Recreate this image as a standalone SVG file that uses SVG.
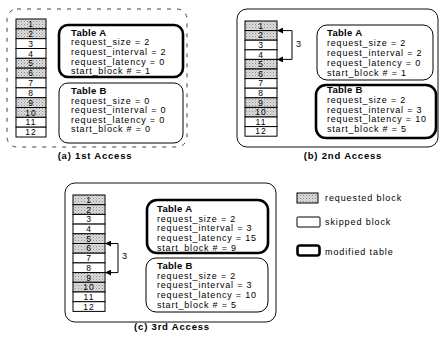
<svg xmlns="http://www.w3.org/2000/svg" width="441" height="341" viewBox="0 0 441 341">
  <defs>
    <pattern id="dots" width="3" height="3" patternUnits="userSpaceOnUse">
      <rect width="3" height="3" fill="#dcdcdc"/>
      <rect width="1" height="1" fill="#8a8a8a"/>
      <rect x="1.5" y="1.5" width="1" height="1" fill="#a8a8a8"/>
    </pattern>
    <marker id="head" viewBox="0 0 6 6" refX="6" refY="3" markerWidth="6" markerHeight="6" markerUnits="userSpaceOnUse" orient="auto-start-reverse">
      <path d="M0,0 L6,3 L0,6 Z" fill="#000"/>
    </marker>
    <style>
      .panel { fill: #fff; stroke: #111; stroke-width: 1; }
      .faint { stroke: #444; stroke-dasharray: 4 6; }
      .blk { fill: #fff; stroke: #000; stroke-width: 1; }
      .req { fill: url(#dots); stroke: #000; stroke-width: 1; }
      .tbl { fill: #fff; stroke: #000; stroke-width: 1; }
      .mod { fill: #fff; stroke: #000; stroke-width: 2.6; }
      .num { font-family: "Liberation Sans", Arial, sans-serif; font-size: 8.5px; letter-spacing: 1px; text-anchor: middle; fill: #000; }
      .txt { font-family: "Liberation Sans", Arial, sans-serif; font-size: 9px; letter-spacing: 0.8px; fill: #000; }
      .ttl { font-family: "Liberation Sans", Arial, sans-serif; font-size: 9.5px; font-weight: bold; letter-spacing: 0.3px; fill: #000; }
      .cap { font-family: "Liberation Sans", Arial, sans-serif; font-size: 9.5px; font-weight: bold; letter-spacing: 0.8px; text-anchor: middle; fill: #000; }
      .leg { font-family: "Liberation Sans", Arial, sans-serif; font-size: 9px; letter-spacing: 0.9px; fill: #000; }
      .link { fill: none; stroke: #000; stroke-width: 1; }
    </style>
  </defs>

  <!-- (a) first access -->
  <g id="panel-a">
    <rect class="panel faint" x="7" y="9" width="180" height="138" rx="10"/>
    <text class="cap" x="95" y="158.5">(a) 1st Access</text>
  </g>
  <g id="blocks-a">
    <rect class="req" x="16" y="19" width="30" height="9.83"/>
    <rect class="req" x="16" y="28.83" width="30" height="9.83"/>
    <rect class="blk" x="16" y="38.67" width="30" height="9.83"/>
    <rect class="blk" x="16" y="48.5" width="30" height="9.83"/>
    <rect class="req" x="16" y="58.33" width="30" height="9.83"/>
    <rect class="req" x="16" y="68.17" width="30" height="9.83"/>
    <rect class="blk" x="16" y="78" width="30" height="9.83"/>
    <rect class="blk" x="16" y="87.83" width="30" height="9.83"/>
    <rect class="req" x="16" y="97.67" width="30" height="9.83"/>
    <rect class="req" x="16" y="107.5" width="30" height="9.83"/>
    <rect class="blk" x="16" y="117.33" width="30" height="9.83"/>
    <rect class="blk" x="16" y="127.17" width="30" height="9.83"/>
    <text class="num" x="31" y="27">1</text>
    <text class="num" x="31" y="36.8">2</text>
    <text class="num" x="31" y="46.6">3</text>
    <text class="num" x="31" y="56.5">4</text>
    <text class="num" x="31" y="66.3">5</text>
    <text class="num" x="31" y="76.1">6</text>
    <text class="num" x="31" y="86">7</text>
    <text class="num" x="31" y="95.8">8</text>
    <text class="num" x="31" y="105.6">9</text>
    <text class="num" x="31" y="115.5">10</text>
    <text class="num" x="31" y="125.3">11</text>
    <text class="num" x="31" y="135.1">12</text>
  </g>
  <g id="table-a-1">
    <rect class="mod" x="59" y="25" width="124" height="52" rx="9"/>
    <text class="ttl" x="71" y="35.5">Table A</text>
    <text class="txt" x="71" y="45.3">request_size = 2</text>
    <text class="txt" x="71" y="55">request_interval = 2</text>
    <text class="txt" x="71" y="64.7">request_latency = 0</text>
    <text class="txt" x="71" y="74.3">start_block # = 1</text>
  </g>
  <g id="table-b-1">
    <rect class="tbl" x="59" y="83" width="124" height="60" rx="9"/>
    <text class="ttl" x="71" y="94">Table B</text>
    <text class="txt" x="71" y="103.5">request_size = 0</text>
    <text class="txt" x="71" y="113.3">request_interval = 0</text>
    <text class="txt" x="71" y="122.8">request_latency = 0</text>
    <text class="txt" x="71" y="132.2">start_block # = 0</text>
  </g>

  <!-- (b) second access -->
  <g id="panel-b">
    <rect class="panel" x="237" y="9" width="201" height="138" rx="10"/>
    <text class="cap" x="343" y="158.5">(b) 2nd Access</text>
  </g>
  <g id="blocks-b">
    <rect class="req" x="245" y="21" width="32" height="9.6"/>
    <rect class="req" x="245" y="30.6" width="32" height="9.6"/>
    <rect class="blk" x="245" y="40.2" width="32" height="9.6"/>
    <rect class="blk" x="245" y="49.8" width="32" height="9.6"/>
    <rect class="req" x="245" y="59.4" width="32" height="9.6"/>
    <rect class="req" x="245" y="69" width="32" height="9.6"/>
    <rect class="blk" x="245" y="78.6" width="32" height="9.6"/>
    <rect class="blk" x="245" y="88.2" width="32" height="9.6"/>
    <rect class="req" x="245" y="97.8" width="32" height="9.6"/>
    <rect class="req" x="245" y="107.4" width="32" height="9.6"/>
    <rect class="blk" x="245" y="117" width="32" height="9.6"/>
    <rect class="blk" x="245" y="126.6" width="32" height="9.6"/>
    <text class="num" x="261" y="28.8">1</text>
    <text class="num" x="261" y="38.4">2</text>
    <text class="num" x="261" y="48">3</text>
    <text class="num" x="261" y="57.6">4</text>
    <text class="num" x="261" y="67.2">5</text>
    <text class="num" x="261" y="76.8">6</text>
    <text class="num" x="261" y="86.4">7</text>
    <text class="num" x="261" y="96">8</text>
    <text class="num" x="261" y="105.6">9</text>
    <text class="num" x="261" y="115.2">10</text>
    <text class="num" x="261" y="124.8">11</text>
    <text class="num" x="261" y="134.4">12</text>
  </g>
  <g id="table-a-2">
    <rect class="tbl" x="317" y="25" width="116" height="55" rx="10"/>
    <text class="ttl" x="327" y="35.5">Table A</text>
    <text class="txt" x="327" y="45.5">request_size = 2</text>
    <text class="txt" x="327" y="55.5">request_interval = 2</text>
    <text class="txt" x="327" y="65.5">request_latency = 0</text>
    <text class="txt" x="327" y="75.5">start_block # = 1</text>
  </g>
  <g id="table-b-2">
    <rect class="mod" x="316" y="85" width="120" height="53" rx="10"/>
    <text class="ttl" x="327" y="93">Table B</text>
    <text class="txt" x="327" y="102.7">request_size = 2</text>
    <text class="txt" x="327" y="112.5">request_interval = 3</text>
    <text class="txt" x="327" y="122">request_latency = 10</text>
    <text class="txt" x="327" y="131.5">start_block # = 5</text>
  </g>

  <!-- (c) third access -->
  <g id="panel-c">
    <rect class="panel" x="65" y="183" width="211" height="139" rx="10" stroke-width="1.3"/>
    <text class="cap" x="172" y="330">(c) 3rd Access</text>
  </g>
  <g id="blocks-c">
    <rect class="req" x="73" y="195" width="32" height="9.7"/>
    <rect class="req" x="73" y="204.7" width="32" height="9.7"/>
    <rect class="blk" x="73" y="214.4" width="32" height="9.7"/>
    <rect class="blk" x="73" y="224.1" width="32" height="9.7"/>
    <rect class="req" x="73" y="233.8" width="32" height="9.7"/>
    <rect class="req" x="73" y="243.5" width="32" height="9.7"/>
    <rect class="blk" x="73" y="253.2" width="32" height="9.7"/>
    <rect class="blk" x="73" y="262.9" width="32" height="9.7"/>
    <rect class="req" x="73" y="272.6" width="32" height="9.7"/>
    <rect class="req" x="73" y="282.3" width="32" height="9.7"/>
    <rect class="blk" x="73" y="292" width="32" height="9.7"/>
    <rect class="blk" x="73" y="301.7" width="32" height="9.7"/>
    <text class="num" x="89" y="202.9">1</text>
    <text class="num" x="89" y="212.6">2</text>
    <text class="num" x="89" y="222.3">3</text>
    <text class="num" x="89" y="232">4</text>
    <text class="num" x="89" y="241.7">5</text>
    <text class="num" x="89" y="251.4">6</text>
    <text class="num" x="89" y="261.1">7</text>
    <text class="num" x="89" y="270.8">8</text>
    <text class="num" x="89" y="280.5">9</text>
    <text class="num" x="89" y="290.2">10</text>
    <text class="num" x="89" y="299.9">11</text>
    <text class="num" x="89" y="309.6">12</text>
  </g>
  <g id="table-a-3">
    <rect class="mod" x="147" y="200" width="121" height="53" rx="10"/>
    <text class="ttl" x="157" y="211.5">Table A</text>
    <text class="txt" x="157" y="221.5">request_size = 2</text>
    <text class="txt" x="157" y="231.3">request_interval = 3</text>
    <text class="txt" x="157" y="241">request_latency = 15</text>
    <text class="txt" x="157" y="250.5">start_block # = 9</text>
  </g>
  <g id="table-b-3">
    <rect class="tbl" x="146" y="258" width="122" height="54" rx="10"/>
    <text class="ttl" x="157" y="268.5">Table B</text>
    <text class="txt" x="157" y="278.5">request_size = 2</text>
    <text class="txt" x="157" y="288">request_interval = 3</text>
    <text class="txt" x="157" y="297.8">request_latency = 10</text>
    <text class="txt" x="157" y="307.5">start_block # = 5</text>
  </g>

  <!-- stride connectors between requested blocks -->
  <g id="connectors">
    <path class="link" d="M277,30.6 H292 V59.4 H277" marker-start="url(#head)" marker-end="url(#head)"/>
    <text class="txt" x="296" y="47">3</text>
    <path class="link" d="M105,243.5 H118 V272.6 H105" marker-start="url(#head)" marker-end="url(#head)"/>
    <text class="txt" x="122" y="259">3</text>
  </g>

  <!-- legend -->
  <g id="legend-requested">
    <rect class="req" x="297" y="193" width="21" height="10"/>
    <text class="leg" x="325" y="201">requested block</text>
  </g>
  <g id="legend-skipped">
    <rect class="blk" x="297" y="217" width="23" height="10" rx="1"/>
    <text class="leg" x="325" y="225">skipped block</text>
  </g>
  <g id="legend-modified">
    <rect class="mod" x="297.5" y="245.5" width="22" height="10" rx="2.5"/>
    <text class="leg" x="325" y="254.5">modified table</text>
  </g>
</svg>
